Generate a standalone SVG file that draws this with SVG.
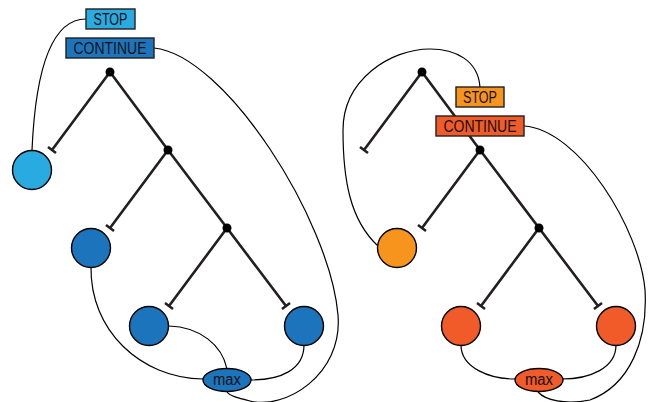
<svg xmlns="http://www.w3.org/2000/svg" width="654" height="402" viewBox="0 0 654 402">
<style>
.tree{stroke:#231f20;stroke-width:2.6;fill:none;stroke-linecap:butt}
.dot{fill:#000}
.con{stroke:#000;stroke-width:1.2;fill:none}
.box{stroke:#231f20;stroke-width:1.4}
.nd{stroke:#000;stroke-width:1.4}
.lbl{font-family:"Liberation Sans",Arial,sans-serif;font-size:16px;fill:#111;text-anchor:middle}
.lb{fill:#29abe2}.db{fill:#1c75bc}.or{fill:#f7941d}.rd{fill:#f15a29}
</style>
<rect width="654" height="402" fill="#fff"/>
<g id="tree-left">
<path class="tree" d="M110,72 L52,150 M48,147 L56,153 M110,72 L168,150 L110,228 M106,225 L114,231 M168,150 L227,228 L169,306 M165,303 L173,309 M227,228 L286,306 M290,303 L282,309"/>
<circle class="dot" cx="110" cy="72" r="4.5"/>
<circle class="dot" cx="168" cy="150" r="4.5"/>
<circle class="dot" cx="227" cy="228" r="4.5"/>
</g>
<g id="tree-right">
<path class="tree" d="M422,72 L364,150 M360,147 L368,153 M422,72 L480,150 L422,228 M418,225 L426,231 M480,150 L539,228 L481,306 M477,303 L485,309 M539,228 L598,306 M602,303 L594,309"/>
<circle class="dot" cx="422" cy="72" r="4.5"/>
<circle class="dot" cx="480" cy="150" r="4.5"/>
<circle class="dot" cx="539" cy="228" r="4.5"/>
</g>
<g id="connectors">
<path class="con" d="M86,19 C55,19 36,60 32,150"/>
<path class="con" d="M154,48 C225,55 330,220 338,315 C343,375 285,410 250,401 C238,398 230,396 227,392"/>
<path class="con" d="M91,267 C90,330 140,378 203,379"/>
<path class="con" d="M169,326 C200,327 222,345 227,369"/>
<path class="con" d="M304,345 C304,370 280,380 251,380"/>
<path class="con" d="M480,87 C478,60 455,49 430,49 C390,49 343,80 343,130 C343,180 350,220 378,246"/>
<path class="con" d="M524,126 C580,130 640,230 645,290 C648,340 630,385 590,400 C565,405 545,400 538,392"/>
<path class="con" d="M461,345 C461,368 490,379 515,379"/>
<path class="con" d="M616,345 C616,368 590,379 562,379"/>
</g>
<g id="stop-left"><rect class="box lb" x="86" y="9" width="49" height="20"/><text class="lbl" x="110.5" y="25" textLength="34" lengthAdjust="spacingAndGlyphs">STOP</text></g>
<g id="continue-left"><rect class="box db" x="66" y="38" width="88" height="20"/><text class="lbl" x="110" y="53.5" textLength="73" lengthAdjust="spacingAndGlyphs">CONTINUE</text></g>
<g id="leaf-l1"><circle class="nd lb" cx="32" cy="170" r="19.5"/></g>
<g id="leaf-l2"><circle class="nd db" cx="91" cy="248" r="19.5"/></g>
<g id="leaf-l3"><circle class="nd db" cx="149" cy="326" r="19.5"/></g>
<g id="leaf-l4"><circle class="nd db" cx="304" cy="326" r="19.5"/></g>
<g id="max-left"><ellipse class="nd db" cx="227" cy="380" rx="24" ry="11.5"/><text class="lbl" x="227" y="384.5" textLength="28" lengthAdjust="spacingAndGlyphs">max</text></g>
<g id="stop-right"><rect class="box or" x="456" y="87" width="48" height="20"/><text class="lbl" x="480" y="103" textLength="34" lengthAdjust="spacingAndGlyphs">STOP</text></g>
<g id="continue-right"><rect class="box rd" x="436" y="116" width="88" height="20"/><text class="lbl" x="480" y="131.5" textLength="73" lengthAdjust="spacingAndGlyphs">CONTINUE</text></g>
<g id="leaf-r2"><circle class="nd or" cx="397" cy="248" r="19.5"/></g>
<g id="leaf-r3"><circle class="nd rd" cx="461" cy="326" r="19.5"/></g>
<g id="leaf-r4"><circle class="nd rd" cx="616" cy="326" r="19.5"/></g>
<g id="max-right"><ellipse class="nd rd" cx="539" cy="380" rx="24" ry="11.5"/><text class="lbl" x="539" y="384.5" textLength="28" lengthAdjust="spacingAndGlyphs">max</text></g>
</svg>
